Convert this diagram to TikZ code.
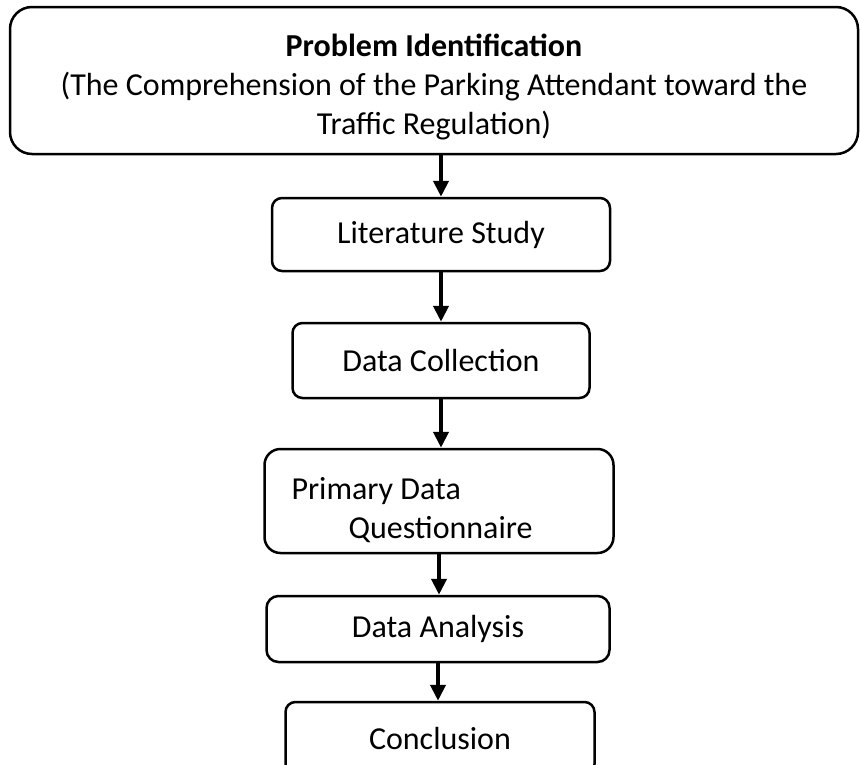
\documentclass[tikz,border=0pt]{standalone}
\usepackage{fontspec}
\setmainfont{Carlito}
\usetikzlibrary{positioning,arrows.meta}

\begin{document}
\begin{tikzpicture}[x=1pt,y=1pt,
    stage/.style={rectangle, draw, rounded corners=10pt, line width=2.5pt, align=center, inner sep=0pt, font=\fontsize{32}{39}\selectfont},
    flow/.style={-{Triangle[width=15pt,length=16pt]}, line width=4pt}]
        \useasboundingbox (0,0) rectangle (860,-764);
        % Nodes
        \node [stage, rounded corners=22pt, minimum width=848pt, minimum height=147pt] (problem) at (434,-80.5) {\rule{0pt}{36pt}\textbf{Problem Identification}\\(The Comprehension of the Parking Attendant toward the\\Traffic Regulation)};
        \node [stage, below=41.5pt of problem, xshift=7pt, minimum width=338pt, minimum height=73pt] (literature) {Literature Study};
        \node [stage, below=49.5pt of literature, minimum width=297pt, minimum height=75pt] (collection) {Data Collection};
        \node [stage, below=48.5pt of collection, xshift=-2pt, rounded corners=16pt, minimum height=104pt, align=flush left, text width=295pt, inner xsep=27pt] (primary) {\rule{0pt}{40pt}Primary Data\\\hspace*{57pt}Questionnaire};
        \node [stage, below=40.5pt of primary, xshift=-1pt, rounded corners=12pt, minimum width=343pt, minimum height=66pt] (analysis) {Data Analysis};
        \node [stage, below=37.5pt of analysis, xshift=2pt, minimum width=309pt, minimum height=72pt] (conclusion) {Conclusion};

        % Arrows
        \draw[flow] (literature.north |- problem.south) -- (literature.north);
        \draw[flow] (literature) -- (collection);
        \draw[flow] (collection.south) -- (collection.south |- primary.north);
        \draw[flow] (primary.south) -- (primary.south |- analysis.north);
        \draw[flow] (analysis.south) -- (analysis.south |- conclusion.north);
\end{tikzpicture}
\end{document}
